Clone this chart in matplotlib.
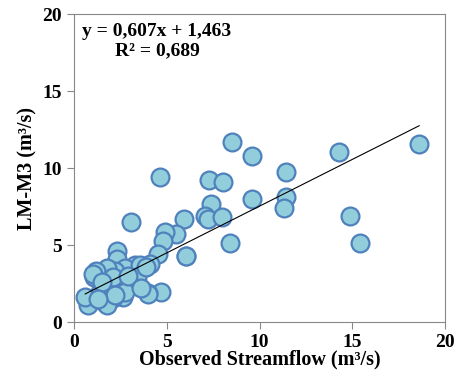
import numpy as np
import matplotlib.pyplot as plt

# observed vs simulated streamflow (m3/s)
observed = [8.5, 9.6, 14.3, 18.6, 11.4, 7.3, 8.05, 9.6, 11.4, 11.3, 7.4, 7.05, 7.2, 7.95,
            14.9, 8.4, 15.4, 5.9, 5.5, 6.05, 4.65, 3.05, 4.9, 4.8, 4.7, 4.0,
            2.3, 2.3, 6.05, 4.55, 4.1, 3.85, 3.3, 2.75, 2.2, 1.75, 1.2, 1.05, 3.2, 2.5,
            1.95, 1.4, 4.0, 3.3, 2.65, 2.1, 1.6, 0.75, 0.6, 1.75, 3.55, 3.4, 2.85, 2.1,
            2.75, 2.2, 3.9, 1.0, 1.5, 2.9, 3.6, 1.3]
simulated = [11.7, 10.8, 11.05, 11.55, 9.75, 9.2, 9.1, 8.0, 8.1, 7.4, 7.65, 6.9, 6.7, 6.85,
             6.9, 5.15, 5.15, 6.7, 5.7, 4.3, 9.4, 6.5, 5.85, 5.3, 1.95, 1.9,
             4.65, 4.1, 4.3, 4.45, 3.8, 3.6, 3.7, 3.5, 3.3, 3.5, 3.3, 2.95, 2.75, 2.6,
             2.3, 1.95, 1.85, 2.5, 1.65, 1.55, 1.3, 1.1, 1.65, 1.1, 3.7, 2.95, 2.8, 2.95,
             1.95, 1.75, 3.6, 3.1, 2.6, 3.0, 2.2, 1.5]
slope, intercept = 0.607, 1.463

plt.rcParams['font.family'] = ['Liberation Serif', 'DejaVu Serif']
plt.rcParams['font.weight'] = 'bold'

fig = plt.figure(figsize=(4.57, 3.83), dpi=100)
ax = fig.add_axes([0.162, 0.159, 0.812, 0.804])

ax.scatter(observed, simulated, s=165, facecolor='#92CDDC', edgecolor='#4F81BD',
           linewidth=1.6, zorder=2)
xl = np.array([min(observed), max(observed)])
ax.plot(xl, slope * xl + intercept, color='black', linewidth=0.8, zorder=3)

ax.set_xlim(0, 20)
ax.set_ylim(0, 20)
ax.set_xticks([0, 5, 10, 15, 20])
ax.set_yticks([0, 5, 10, 15, 20])
for s in ax.spines.values():
    s.set_color('#888888')
ax.tick_params(colors='#888888', labelcolor='black', labelsize=14, length=5, width=0.8)

ax.set_xlabel('Observed Streamflow (m³/s)', fontsize=14.5, fontweight='bold', labelpad=-1)
ax.set_ylabel('LM-M3 (m³/s)', fontsize=14.5, fontweight='bold', labelpad=4)

ax.text(0.022, 0.945, 'y = 0,607x + 1,463', transform=ax.transAxes, fontsize=14,
        fontweight='bold', va='center')
ax.text(0.11, 0.88, 'R² = 0,689', transform=ax.transAxes, fontsize=14,
        fontweight='bold', va='center')

fig.savefig('out.png', dpi=100)
